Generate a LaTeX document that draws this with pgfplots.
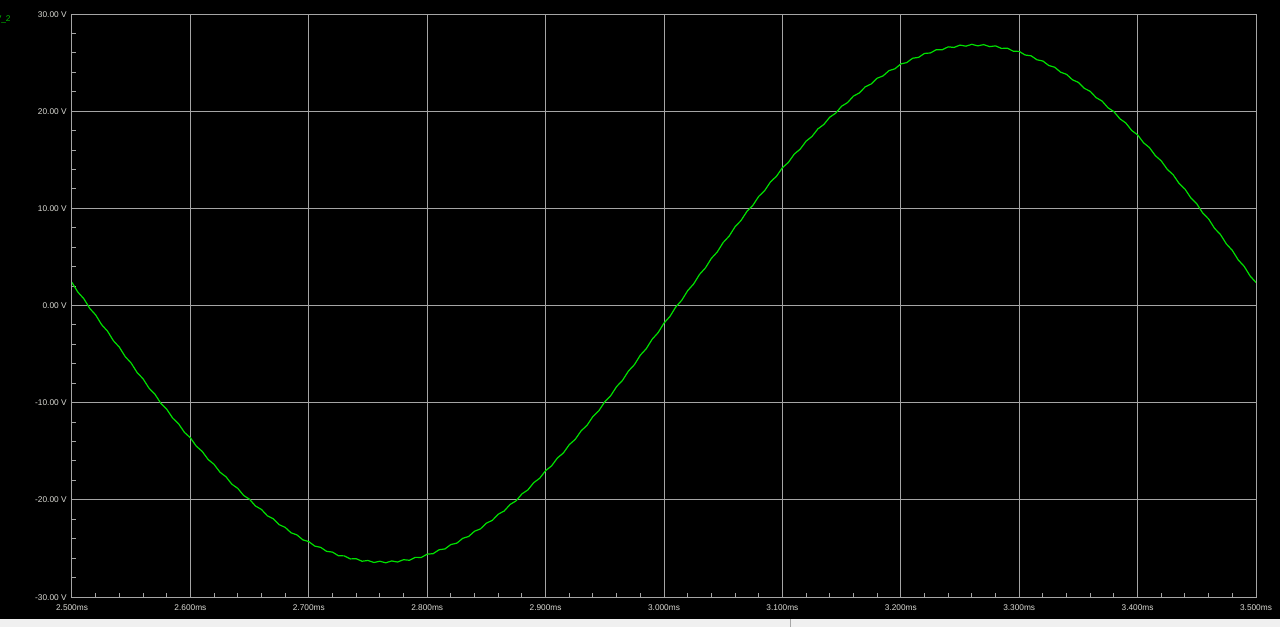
\documentclass[border=0pt]{standalone}
\usepackage{fontspec}
\setmainfont{Liberation Sans}
\usepackage{pgfplots}
\usepackage{pgfplotstable}
\pgfplotsset{compat=1.18}

\definecolor{trace}{RGB}{0,225,0}
\definecolor{gridc}{RGB}{165,165,165}
\definecolor{labc}{RGB}{218,218,212}
\definecolor{stripc}{RGB}{240,240,240}

% V_2 trace (ms, V)
\pgfplotstableread{
t v
2.500 2.37
2.505 1.37
2.510 0.70
2.515 -0.30
2.520 -0.97
2.525 -1.97
2.530 -2.64
2.535 -3.63
2.540 -4.29
2.545 -5.27
2.550 -5.93
2.555 -6.90
2.560 -7.54
2.565 -8.50
2.570 -9.12
2.575 -10.06
2.580 -10.67
2.585 -11.58
2.590 -12.17
2.595 -13.06
2.600 -13.62
2.605 -14.48
2.610 -15.02
2.615 -15.85
2.620 -16.35
2.625 -17.16
2.630 -17.62
2.635 -18.39
2.640 -18.82
2.645 -19.55
2.650 -19.95
2.655 -20.64
2.660 -20.99
2.665 -21.64
2.670 -21.95
2.675 -22.56
2.680 -22.83
2.685 -23.39
2.690 -23.61
2.695 -24.12
2.700 -24.30
2.705 -24.76
2.710 -24.89
2.715 -25.30
2.720 -25.38
2.725 -25.75
2.730 -25.77
2.735 -26.08
2.740 -26.06
2.745 -26.32
2.750 -26.24
2.755 -26.45
2.760 -26.32
2.765 -26.48
2.770 -26.29
2.775 -26.40
2.780 -26.16
2.785 -26.22
2.790 -25.92
2.795 -25.93
2.800 -25.59
2.805 -25.54
2.810 -25.14
2.815 -25.05
2.820 -24.60
2.825 -24.46
2.830 -23.96
2.835 -23.77
2.840 -23.23
2.845 -22.99
2.850 -22.40
2.855 -22.11
2.860 -21.48
2.865 -21.15
2.870 -20.48
2.875 -20.11
2.880 -19.39
2.885 -18.98
2.890 -18.23
2.895 -17.78
2.900 -17.00
2.905 -16.51
2.910 -15.69
2.915 -15.18
2.920 -14.32
2.925 -13.78
2.930 -12.90
2.935 -12.33
2.940 -11.42
2.945 -10.83
2.950 -9.90
2.955 -9.28
2.960 -8.34
2.965 -7.70
2.970 -6.74
2.975 -6.09
2.980 -5.11
2.985 -4.45
2.990 -3.47
2.995 -2.80
3.000 -1.81
3.005 -1.13
3.010 -0.14
3.015 0.54
3.020 1.53
3.025 2.21
3.030 3.20
3.035 3.87
3.040 4.85
3.045 5.51
3.050 6.49
3.055 7.14
3.060 8.10
3.065 8.74
3.070 9.68
3.075 10.30
3.080 11.23
3.085 11.82
3.090 12.73
3.095 13.30
3.100 14.18
3.105 14.72
3.110 15.58
3.115 16.09
3.120 16.91
3.125 17.40
3.130 18.18
3.135 18.63
3.140 19.38
3.145 19.79
3.150 20.51
3.155 20.88
3.160 21.55
3.165 21.88
3.170 22.51
3.175 22.80
3.180 23.39
3.185 23.63
3.190 24.17
3.195 24.36
3.200 24.86
3.205 25.00
3.210 25.45
3.215 25.54
3.220 25.94
3.225 25.99
3.230 26.33
3.235 26.32
3.240 26.62
3.245 26.56
3.250 26.80
3.255 26.69
3.260 26.88
3.265 26.72
3.270 26.85
3.275 26.64
3.280 26.72
3.285 26.46
3.290 26.48
3.295 26.17
3.300 26.15
3.305 25.78
3.310 25.70
3.315 25.29
3.320 25.16
3.325 24.70
3.330 24.52
3.335 24.01
3.340 23.79
3.345 23.23
3.350 22.96
3.355 22.35
3.360 22.04
3.365 21.39
3.370 21.04
3.375 20.35
3.380 19.95
3.385 19.22
3.390 18.79
3.395 18.02
3.400 17.56
3.405 16.75
3.410 16.25
3.415 15.42
3.420 14.88
3.425 14.02
3.430 13.46
3.435 12.57
3.440 11.98
3.445 11.07
3.450 10.46
3.455 9.52
3.460 8.90
3.465 7.94
3.470 7.30
3.475 6.33
3.480 5.67
3.485 4.69
3.490 4.03
3.495 3.04
3.500 2.37
}\vtwo

\begin{document}
\begin{tikzpicture}[x=1pt,y=1pt]
% screen background and the window strip under it
\fill[black] (-36,-11) rectangle (604,298.5);
\fill[stripc] (-36,-15) rectangle (604,-11);
\draw[gray!70] (359,-15) -- (359,-11);

\begin{axis}[
    at={(0,0)}, anchor=south west,
    scale only axis,
    width=592pt, height=291.5pt,
    xmin=2.5, xmax=3.5, ymin=-30, ymax=30,
    xtick={2.5,2.6,2.7,2.8,2.9,3.0,3.1,3.2,3.3,3.4,3.5},
    xticklabels={2.500ms,2.600ms,2.700ms,2.800ms,2.900ms,3.000ms,3.100ms,3.200ms,3.300ms,3.400ms,3.500ms},
    ytick={-30,-20,-10,0,10,20,30},
    yticklabels={-30.00 V,-20.00 V,-10.00 V,0.00 V,10.00 V,20.00 V,30.00 V},
    minor x tick num=4, minor y tick num=4,
    grid=major,
    major grid style={gridc, line width=0.5pt},
    axis line style={gridc, line width=0.5pt},
    tick style={gridc, line width=0.5pt},
    major tick length=0pt, minor tick length=2.2pt,
    tick align=inside, tick pos=left,
    ticklabel style={font=\fontsize{4.15}{5}\selectfont, text=labc, inner sep=0pt},
    xticklabel style={anchor=base, yshift=-6.6pt},
    yticklabel style={anchor=base east, xshift=-2.5pt, yshift=-1.5pt},
]
\addplot[trace, line width=0.6pt] table[x=t, y=v] {\vtwo};
\end{axis}

\node[anchor=base east, inner sep=0pt, text=trace!85!black, font=\fontsize{4.15}{5}\selectfont] at (-30.5,287.5) {V\_2};

\pgfresetboundingbox
\useasboundingbox (-36,-15) rectangle (604,298.5);
\end{tikzpicture}
\end{document}
